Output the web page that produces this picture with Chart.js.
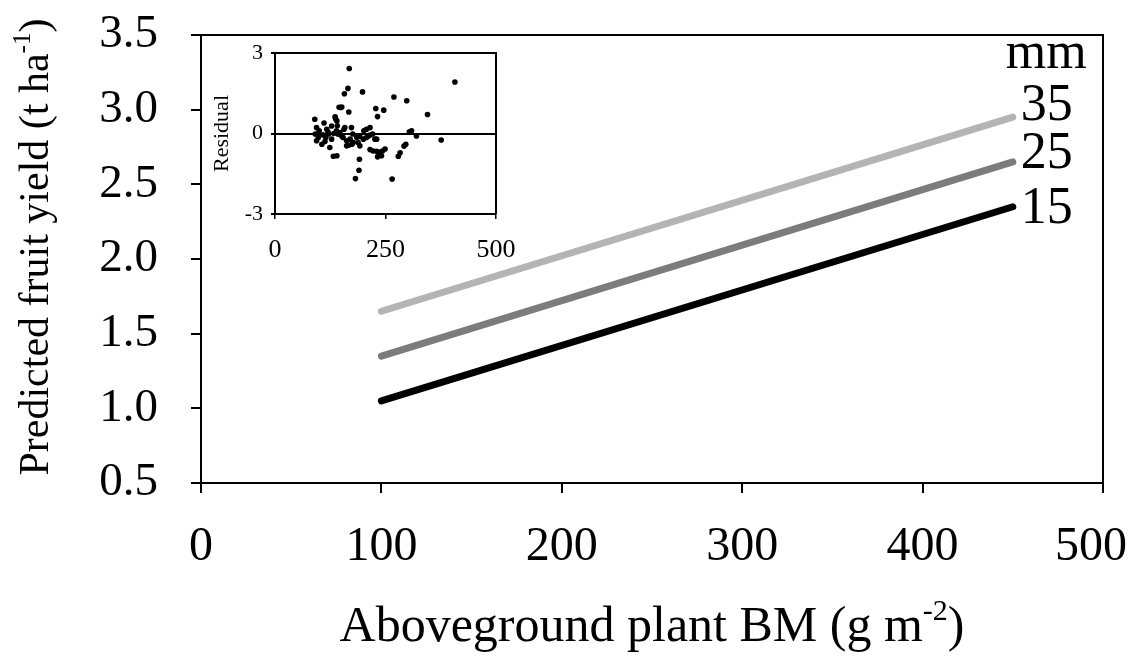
<!DOCTYPE html>
<html>
<head>
<meta charset="utf-8">
<script src="https://cdn.jsdelivr.net/npm/chart.js@4.4.1/dist/chart.umd.min.js"></script>
<style>
  html, body { margin: 0; padding: 0; background: #ffffff; }
  #wrap { position: relative; width: 1148px; height: 658px; overflow: hidden; }
  #main { position: absolute; left: 0; top: 0; }
  #inset { position: absolute; left: 205px; top: 40px; }
</style>
</head>
<body>
<div id="wrap">
  <canvas id="main" width="1148" height="658"></canvas>
  <canvas id="inset" width="310" height="228"></canvas>
</div>
<script>
// Predicted fruit yield vs aboveground biomass, one line per rainfall level (mm)
const biomassEnds = [100, 450];
const rainLevels = ['35', '25', '15'];
const yield35 = [1.65, 2.95];
const yield25 = [1.35, 2.65];
const yield15 = [1.05, 2.35];
const xTickValues = [0, 100, 200, 300, 400, 500];
const yTickValues = [0.5, 1.0, 1.5, 2.0, 2.5, 3.0, 3.5];

// Residuals of the yield model against biomass
const residualBM = [
  168, 165, 157, 198, 149, 145, 151, 167, 269, 298, 407, 345, 228, 246, 232,
  90, 94, 111, 117, 91, 98, 94, 106, 115, 121, 128, 124, 132, 140, 136,
  140, 141, 128, 100, 113, 137, 143, 139, 147, 151, 156, 154, 162, 162, 166,
  173, 176, 170, 177, 174, 185, 188, 192, 191, 190, 182, 192, 200, 201, 207,
  207, 215, 211, 215, 221, 226, 230, 215, 222, 230, 234, 238, 243, 249, 232,
  241, 265, 279, 283, 292, 296, 304, 309, 320, 376, 158, 133, 120, 108
];
const residualValues = [
  2.42, 1.68, 1.48, 1.55, 0.97, 0.98, 0.99, 0.80, 1.36, 1.22, 1.92, 0.71, 0.93, 0.87, 0.63,
  0.53, 0.22, 0.39, 0.16, -0.02, -0.15, -0.27, -0.40, -0.15, -0.02, -0.21, -0.52, -0.85, -0.83, 0.62,
  0.47, 0.29, 0.28, 0.10, -0.30, 0.55, -0.03, 0.10, 0.04, -0.09, 0.16, -0.15, -0.27, -0.46, -0.44,
  0.22, -0.02, -0.21, -0.34, -0.40, -0.15, -0.34, -0.46, -0.96, -1.37, -1.68, -0.11, -0.21, 0.10, 0.16,
  -0.15, 0.22, -0.09, -0.06, -0.02, -0.21, -0.21, -0.60, -0.65, -0.66, -0.71, -0.69, -0.65, -0.58, -0.87,
  -0.83, -1.70, -0.85, -0.72, -0.47, -0.40, 0.06, 0.10, -0.09, -0.24, 0.22, 0.00, 0.05, -0.05
];
const insetXTickValues = [0, 250, 500];
const insetYTickValues = [-3, 0, 3];

const SERIF = "'Liberation Serif', 'Times New Roman', Times, serif";

// Box around the plotting area (top and right sides added to the axes)
const frameBox = {
  id: 'frameBox',
  afterDatasetsDraw(chart, args, opts) {
    const { ctx, chartArea: a } = chart;
    ctx.save();
    ctx.strokeStyle = '#000';
    ctx.lineWidth = opts.width || 2;
    ctx.beginPath();
    ctx.moveTo(a.left, a.top);
    ctx.lineTo(a.right, a.top);
    ctx.lineTo(a.right, a.bottom);
    ctx.stroke();
    ctx.restore();
  }
};

// Fixed axis box size; label overhang is left to the layout padding
const fixAxisBox = (size) => (s) => {
  if (s.isHorizontal()) s.height = size; else s.width = size;
  s.paddingTop = 0; s.paddingBottom = 0; s.paddingLeft = 0; s.paddingRight = 0;
};

// Text with a superscript run, centred on (x, y) along its baseline
function drawRichText(ctx, parts, x, y, size) {
  let total = 0;
  const runs = parts.map(p => {
    const s = p.sup ? size * 0.6 : size;
    ctx.font = `${s}px ${SERIF}`;
    const w = ctx.measureText(p.text).width;
    total += w;
    return { text: p.text, size: s, w, sup: p.sup };
  });
  let cx = x - total / 2;
  ctx.textAlign = 'left';
  ctx.textBaseline = 'alphabetic';
  runs.forEach(r => {
    ctx.font = `${r.size}px ${SERIF}`;
    ctx.fillText(r.text, cx, r.sup ? y - size * 0.42 : y);
    cx += r.w;
  });
}

const axisTitles = {
  id: 'axisTitles',
  afterDraw(chart) {
    const { ctx, chartArea: a } = chart;
    ctx.save();
    ctx.fillStyle = '#000';
    drawRichText(ctx, [
      { text: 'Aboveground plant BM (g m' }, { text: '-2', sup: true }, { text: ')' }
    ], (a.left + a.right) / 2, 641, 50);
    ctx.translate(48, 247);
    ctx.rotate(-Math.PI / 2);
    drawRichText(ctx, [
      { text: 'Predicted fruit yield (t ha' }, { text: '-1', sup: true }, { text: ')' }
    ], 0, 0, 42);
    ctx.restore();
  }
};

// Rainfall labels at the right-hand end of each line
const lineLabels = {
  id: 'lineLabels',
  afterDatasetsDraw(chart, args, opts) {
    const { ctx } = chart;
    ctx.save();
    ctx.fillStyle = '#000';
    ctx.font = `${opts.size}px ${SERIF}`;
    ctx.textAlign = 'left';
    ctx.textBaseline = 'alphabetic';
    let firstX = 0, firstY = 0;
    chart.data.datasets.forEach((ds, i) => {
      const pts = chart.getDatasetMeta(i).data;
      const end = pts[pts.length - 1];
      const lx = end.x + opts.gap;
      const ly = end.y + opts.baselineShift[i];
      ctx.fillText(ds.label, lx, ly);
      if (i === 0) { firstX = lx; firstY = ly; }
    });
    ctx.fillText(opts.unit, firstX - 15, firstY - 52);
    ctx.restore();
  }
};

const lineStyle = (label, values, color) => ({
  label,
  data: biomassEnds.map((x, i) => ({ x, y: values[i] })),
  showLine: true,
  borderColor: color,
  backgroundColor: color,
  borderWidth: 7,
  borderCapStyle: 'round',
  pointRadius: 0
});

new Chart(document.getElementById('main'), {
  type: 'scatter',
  data: {
    datasets: [
      lineStyle(rainLevels[0], yield35, '#b4b4b4'),
      lineStyle(rainLevels[1], yield25, '#7c7c7c'),
      lineStyle(rainLevels[2], yield15, '#000000')
    ]
  },
  options: {
    responsive: false,
    animation: false,
    devicePixelRatio: 1,
    layout: { padding: { left: 0, right: 45, top: 35, bottom: 0 } },
    plugins: {
      legend: { display: false },
      tooltip: { enabled: false },
      frameBox: { width: 2 },
      lineLabels: { size: 52, gap: 8, baselineShift: [3, 6, 16], unit: 'mm' }
    },
    scales: {
      x: {
        type: 'linear', min: 0, max: 500,
        afterBuildTicks: s => { s.ticks = xTickValues.map(v => ({ value: v })); },
        ticks: {
          color: '#000', font: { family: SERIF, size: 48 }, padding: 26, maxRotation: 0,
          // last label is pulled slightly inwards so it stays on the page
          callback: (v, i, ticks) => (i === ticks.length - 1 ? v + '\u2002' : String(v))
        },
        grid: { drawOnChartArea: false, drawTicks: true, tickLength: 10, color: '#000', lineWidth: 2 },
        border: { display: true, color: '#000', width: 2 },
        afterFit: fixAxisBox(658 - 483)
      },
      y: {
        type: 'linear', min: 0.5, max: 3.5,
        afterBuildTicks: s => { s.ticks = yTickValues.map(v => ({ value: v })); },
        ticks: { color: '#000', font: { family: SERIF, size: 47 }, padding: 33, callback: v => v.toFixed(1) },
        grid: { drawOnChartArea: false, drawTicks: true, tickLength: 10, color: '#000', lineWidth: 2 },
        border: { display: true, color: '#000', width: 2 },
        afterFit: fixAxisBox(201)
      }
    }
  },
  plugins: [frameBox, lineLabels, axisTitles]
});

new Chart(document.getElementById('inset'), {
  type: 'scatter',
  data: {
    datasets: [{
      data: residualBM.map((x, i) => ({ x, y: residualValues[i] })),
      pointRadius: 2.8,
      pointBackgroundColor: '#000',
      pointBorderWidth: 0
    }]
  },
  options: {
    responsive: false,
    animation: false,
    devicePixelRatio: 1,
    layout: { padding: { left: 0, right: 19, top: 13, bottom: 0 } },
    plugins: { legend: { display: false }, tooltip: { enabled: false }, frameBox: { width: 2 } },
    scales: {
      x: {
        type: 'linear', min: 0, max: 500,
        afterBuildTicks: s => { s.ticks = insetXTickValues.map(v => ({ value: v })); },
        ticks: { color: '#000', font: { family: SERIF, size: 26 }, padding: 16, maxRotation: 0 },
        grid: { drawOnChartArea: false, drawTicks: true, tickLength: 5, color: '#000', lineWidth: 1.5 },
        border: { display: true, color: '#000', width: 2 },
        afterFit: fixAxisBox(228 - 174)
      },
      y: {
        type: 'linear', min: -3, max: 3,
        afterBuildTicks: s => { s.ticks = insetYTickValues.map(v => ({ value: v })); },
        ticks: { color: '#000', font: { family: SERIF, size: 22 }, padding: 8 },
        grid: {
          drawOnChartArea: true, drawTicks: true, tickLength: 4, lineWidth: 2,
          color: c => (c.tick && c.tick.value === 0 ? '#000' : 'rgba(0,0,0,0)'),
          tickColor: '#000'
        },
        border: { display: true, color: '#000', width: 2 },
        title: { display: true, text: 'Residual', color: '#000', font: { family: SERIF, size: 22 }, padding: { top: 4, bottom: 0 } },
        afterFit: fixAxisBox(70)
      }
    }
  },
  plugins: [frameBox]
});
</script>
</body>
</html>
